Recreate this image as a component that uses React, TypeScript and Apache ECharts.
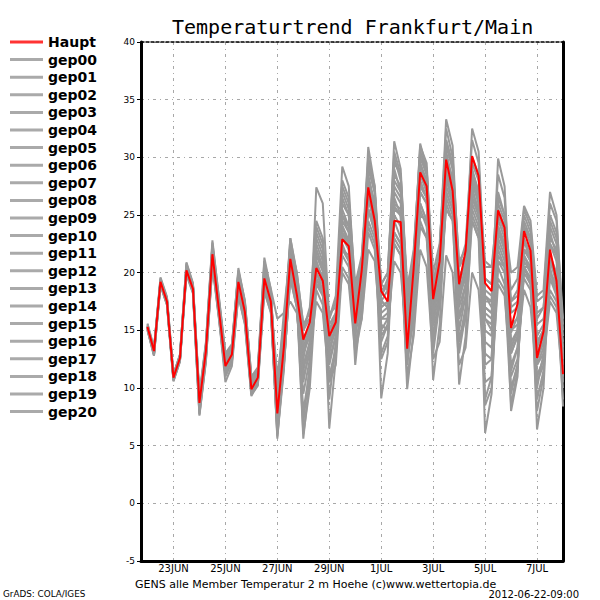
import React, { useEffect, useRef } from "react";
import * as echarts from "echarts";

const chartTitle = "Temperaturtrend Frankfurt/Main";
const footerText = "GENS alle Member Temperatur 2 m Hoehe (c)www.wettertopia.de";
const creditText = "GrADS: COLA/IGES";
const runTimeText = "2012-06-22-09:00";

const xTickLabels = ["23JUN", "25JUN", "27JUN", "29JUN", "1JUL", "3JUL", "5JUL", "7JUL"];
const yMin = -5;
const yMax = 40;
const yStep = 5;

// 6-hourly values from 22JUN 00Z to 8JUL 00Z (65 steps)
const haupt = [
  15.3, 13.2, 19.2, 17.5, 10.9, 12.6, 20.2, 18.6, 8.7, 13.2, 21.6, 16.8, 11.9, 12.9, 19.2, 16.6,
  9.9, 10.9, 19.5, 17.5, 7.8, 13.5, 21.2, 18.1, 14.2, 15.7, 20.4, 19.3, 14.5, 15.7, 22.9, 22.3,
  15.6, 20.2, 27.4, 24.5, 18.4, 17.5, 24.5, 24.4, 13.4, 20.4, 28.7, 27.5, 17.7, 21.0, 29.8, 27.1,
  19.0, 21.9, 30.1, 28.4, 19.1, 18.4, 25.4, 23.9, 15.2, 17.3, 23.6, 21.9, 12.6, 14.9, 22.0, 19.3,
  11.2,
];

const gep00 = [
  15.2, 13.0, 19.0, 17.3, 10.8, 12.4, 20.4, 18.8, 8.9, 13.4, 21.9, 17.0, 12.2, 13.1, 19.6, 16.9,
  10.2, 11.2, 20.1, 17.8, 8.5, 13.8, 21.8, 18.6, 13.5, 15.2, 21.5, 20.1, 14.9, 16.3, 24.1, 22.8,
  16.2, 19.5, 26.8, 24.0, 17.6, 17.0, 25.8, 24.9, 14.5, 19.8, 27.6, 26.5, 16.8, 20.2, 28.5, 26.0,
  18.2, 20.5, 28.8, 27.0, 18.0, 17.5, 24.6, 23.0, 14.8, 16.2, 22.8, 21.0, 13.5, 15.1, 21.2, 19.0,
  12.0,
];
const gep01 = [
  15.5, 13.3, 19.4, 17.7, 11.0, 12.8, 20.5, 18.9, 8.2, 12.8, 21.2, 16.5, 11.5, 12.4, 18.6, 16.0,
  9.6, 10.5, 18.8, 17.0, 6.5, 12.0, 19.5, 17.0, 9.5, 12.5, 18.5, 17.2, 10.5, 12.0, 20.5, 19.5,
  14.0, 16.0, 23.5, 22.0, 13.0, 14.5, 22.5, 21.5, 11.0, 14.5, 22.0, 20.5, 12.5, 14.0, 21.5, 20.0,
  12.0, 13.5, 20.0, 18.5, 10.5, 11.0, 19.0, 18.0, 11.0, 12.5, 20.5, 19.0, 10.5, 12.0, 19.5, 18.0,
  11.0,
];
const gep02 = [
  15.1, 12.9, 19.3, 17.6, 10.7, 12.5, 20.0, 18.4, 8.5, 13.0, 21.5, 16.9, 12.0, 13.0, 19.0, 16.8,
  10.0, 11.0, 19.8, 17.9, 9.0, 14.5, 22.3, 19.5, 15.0, 17.0, 24.5, 23.0, 16.0, 17.5, 26.5, 25.0,
  17.5, 20.5, 29.0, 27.0, 19.0, 20.0, 30.5, 28.5, 17.5, 21.0, 30.5, 28.5, 19.0, 22.0, 32.5, 30.0,
  20.5, 22.5, 31.5, 29.5, 19.5, 19.0, 28.5, 26.5, 17.5, 18.5, 25.0, 23.5, 16.0, 17.0, 24.0, 22.5,
  15.5,
];
const gep03 = [
  15.4, 13.1, 19.1, 17.4, 11.1, 12.7, 20.3, 18.5, 8.0, 12.6, 20.8, 16.2, 11.0, 12.2, 18.2, 15.8,
  9.5, 10.3, 19.0, 16.8, 5.8, 11.5, 20.5, 17.8, 6.0, 10.0, 19.0, 18.5, 11.0, 13.5, 23.5, 22.0,
  15.0, 18.5, 27.5, 25.5, 16.0, 16.5, 26.5, 25.0, 14.0, 17.0, 25.5, 24.0, 15.5, 17.0, 26.0, 24.5,
  14.0, 16.0, 24.5, 23.0, 8.5, 10.0, 21.0, 20.0, 13.0, 14.5, 21.5, 20.5, 9.0, 11.5, 23.0, 22.0,
  14.5,
];
const gep04 = [
  15.3, 13.4, 19.5, 17.8, 11.2, 12.9, 20.6, 19.0, 9.2, 13.8, 22.4, 17.5, 12.8, 13.6, 20.0, 17.3,
  10.8, 11.5, 20.5, 18.3, 8.0, 14.0, 22.5, 19.0, 12.5, 15.5, 23.0, 21.5, 13.0, 15.5, 25.5, 24.0,
  16.5, 21.0, 29.5, 27.0, 18.0, 19.0, 28.5, 27.5, 16.0, 21.5, 31.0, 29.5, 18.5, 22.0, 33.3, 31.0,
  19.5, 21.0, 27.5, 25.0, 14.0, 13.5, 19.5, 18.5, 12.0, 13.5, 18.5, 17.0, 11.0, 12.5, 17.5, 16.5,
  10.5,
];
const gep05 = [
  15.0, 12.8, 18.9, 17.2, 10.6, 12.3, 19.9, 18.3, 7.6, 12.3, 20.6, 16.0, 11.2, 12.5, 18.0, 15.5,
  9.3, 10.4, 18.5, 16.5, 7.0, 12.8, 20.0, 17.5, 11.5, 14.0, 21.0, 19.5, 12.0, 14.5, 24.5, 23.5,
  17.0, 20.0, 28.0, 25.5, 17.5, 18.5, 27.0, 26.0, 15.5, 19.0, 29.5, 28.0, 17.0, 20.5, 30.5, 28.0,
  17.5, 20.0, 29.0, 27.0, 16.0, 15.0, 23.0, 21.5, 10.0, 12.0, 20.0, 19.0, 13.0, 14.5, 20.5, 18.0,
  9.0,
];
const gep06 = [
  15.6, 13.5, 19.3, 17.6, 11.0, 12.6, 20.8, 19.0, 9.0, 13.5, 22.0, 17.2, 12.5, 13.4, 19.8, 17.0,
  10.4, 11.3, 20.0, 18.0, 9.5, 15.0, 23.0, 20.0, 15.5, 16.5, 21.0, 19.0, 16.5, 17.0, 22.0, 21.0,
  18.0, 19.0, 24.0, 22.5, 17.0, 17.5, 23.5, 22.5, 17.0, 19.5, 26.0, 24.5, 19.5, 21.0, 27.5, 26.0,
  20.5, 21.5, 26.5, 25.0, 20.5, 20.5, 24.0, 22.0, 18.5, 19.5, 25.5, 24.0, 17.5, 18.0, 26.0, 24.5,
  16.0,
];
const gep07 = [
  15.2, 13.2, 19.2, 17.4, 10.9, 12.5, 20.1, 18.5, 8.6, 13.1, 21.4, 16.7, 11.8, 12.8, 19.0, 16.4,
  9.7, 10.8, 19.4, 17.4, 6.2, 13.0, 21.5, 18.0, 7.0, 12.0, 22.0, 20.5, 9.0, 14.0, 27.0, 25.5,
  14.5, 19.5, 30.9, 27.5, 15.0, 16.0, 29.0, 27.0, 12.0, 18.0, 29.5, 27.5, 13.0, 17.5, 29.0, 27.0,
  14.0, 17.0, 28.0, 26.0, 12.0, 12.5, 24.0, 22.5, 8.0, 11.0, 24.5, 23.0, 10.0, 13.0, 25.0, 23.5,
  13.0,
];
const gep08 = [
  15.3, 13.1, 19.0, 17.3, 10.8, 12.7, 20.3, 18.7, 8.8, 13.3, 21.7, 16.9, 12.3, 13.2, 19.5, 17.0,
  10.1, 11.1, 19.9, 17.7, 8.2, 13.2, 20.8, 18.5, 13.0, 15.0, 22.5, 21.0, 15.5, 16.5, 25.0, 24.0,
  17.5, 19.0, 25.5, 23.5, 16.0, 16.0, 22.5, 21.5, 12.5, 16.0, 24.5, 23.0, 14.5, 18.0, 26.5, 25.0,
  16.0, 19.0, 30.0, 28.5, 17.5, 17.5, 29.9, 27.5, 16.5, 17.0, 23.0, 21.5, 14.0, 15.0, 21.0, 19.5,
  12.5,
];
const gep09 = [
  15.4, 13.3, 19.3, 17.5, 10.9, 12.6, 20.2, 18.6, 8.4, 13.0, 21.3, 16.6, 11.6, 12.7, 18.8, 16.2,
  9.5, 10.6, 19.2, 17.2, 7.5, 13.2, 21.0, 18.2, 13.0, 14.5, 27.4, 26.0, 16.0, 18.0, 29.2, 27.5,
  18.0, 21.0, 28.5, 26.0, 18.5, 19.0, 31.4, 29.0, 18.0, 21.5, 29.0, 27.0, 19.0, 21.0, 28.0, 26.5,
  18.5, 20.0, 26.5, 25.0, 17.0, 16.5, 22.0, 20.5, 15.5, 16.0, 20.5, 19.5, 12.0, 13.5, 18.5, 17.5,
  12.0,
];
const gep10 = [
  15.2, 13.0, 19.1, 17.4, 11.0, 12.8, 20.4, 18.7, 9.3, 13.8, 22.8, 17.8, 13.0, 13.5, 20.4, 17.5,
  11.0, 11.5, 21.3, 18.5, 9.0, 14.2, 23.0, 19.8, 12.0, 14.0, 19.5, 18.0, 13.5, 15.0, 21.5, 20.5,
  14.5, 18.0, 25.5, 23.5, 16.5, 17.0, 25.0, 24.0, 13.0, 18.5, 27.5, 26.5, 16.0, 19.5, 31.5, 29.5,
  19.0, 21.5, 32.5, 30.5, 19.5, 19.0, 27.0, 25.0, 14.0, 15.0, 21.5, 20.0, 11.0, 12.5, 20.0, 19.0,
  10.0,
];
const gep11 = [
  15.1, 13.0, 19.4, 17.8, 10.7, 12.4, 20.0, 18.3, 7.8, 12.5, 21.0, 16.3, 11.3, 12.6, 18.4, 16.1,
  9.8, 10.9, 18.9, 17.3, 5.6, 12.5, 20.5, 17.5, 5.6, 11.0, 21.5, 20.5, 6.5, 12.5, 24.0, 22.5,
  12.0, 17.5, 27.0, 25.0, 9.1, 13.0, 24.5, 23.0, 9.9, 15.0, 26.0, 24.5, 10.7, 15.5, 27.0, 25.5,
  10.3, 14.5, 25.5, 24.0, 6.1, 9.5, 20.5, 19.0, 8.5, 11.5, 22.0, 21.0, 6.4, 10.0, 21.0, 20.0,
  8.4,
];
const gep12 = [
  15.3, 13.2, 19.2, 17.6, 10.9, 12.7, 20.3, 18.6, 8.6, 13.1, 21.5, 16.8, 12.1, 13.0, 19.3, 16.7,
  10.3, 11.4, 19.7, 17.6, 10.0, 16.5, 22.0, 19.0, 15.0, 16.0, 24.0, 22.5, 15.0, 16.5, 28.0, 26.5,
  19.0, 21.5, 30.0, 27.5, 19.0, 20.0, 30.0, 28.0, 18.5, 22.0, 30.5, 29.0, 20.0, 22.5, 31.0, 29.0,
  21.0, 22.0, 29.5, 28.0, 21.0, 20.5, 26.0, 24.5, 20.0, 20.5, 25.8, 24.5, 18.0, 18.5, 27.0, 25.0,
  15.0,
];
const gep13 = [
  15.2, 13.1, 19.0, 17.5, 10.8, 12.5, 20.1, 18.5, 8.1, 12.9, 21.1, 16.4, 11.5, 12.3, 18.5, 16.0,
  9.6, 10.7, 18.6, 16.9, 7.0, 12.0, 19.5, 17.0, 12.0, 13.0, 17.5, 16.5, 10.5, 13.0, 22.5, 21.0,
  13.5, 17.0, 26.5, 24.0, 12.5, 14.0, 23.5, 22.5, 12.0, 16.5, 28.0, 26.5, 14.0, 17.5, 30.0, 28.0,
  13.0, 16.5, 27.0, 25.5, 9.0, 11.0, 21.5, 20.5, 9.5, 12.0, 20.5, 19.5, 8.0, 11.0, 22.5, 21.5,
  11.5,
];
const gep14 = [
  15.4, 13.2, 19.1, 17.5, 10.9, 12.6, 20.5, 18.9, 8.9, 13.6, 22.1, 17.3, 12.6, 13.3, 19.9, 17.2,
  10.6, 11.6, 20.6, 18.1, 9.5, 13.5, 20.0, 18.0, 14.5, 15.0, 19.0, 18.0, 14.0, 15.0, 20.0, 19.0,
  13.0, 16.0, 22.0, 21.0, 14.5, 15.5, 21.0, 20.0, 14.0, 17.5, 24.0, 23.0, 17.0, 19.0, 25.5, 24.5,
  18.0, 19.5, 24.5, 23.0, 18.0, 17.0, 21.0, 20.5, 17.5, 18.0, 20.5, 20.5, 15.5, 16.0, 19.5, 18.5,
  14.0,
];
const gep15 = [
  15.3, 13.3, 19.3, 17.7, 11.1, 12.9, 20.7, 19.0, 9.1, 13.7, 22.3, 17.6, 12.7, 13.5, 20.1, 17.4,
  10.5, 11.3, 20.3, 18.2, 8.8, 13.8, 22.0, 19.3, 14.0, 15.5, 22.0, 20.5, 14.5, 16.0, 26.0, 25.0,
  16.0, 19.0, 28.0, 26.0, 19.0, 18.5, 27.5, 26.5, 15.0, 20.0, 30.0, 28.5, 18.0, 21.5, 31.5, 29.0,
  19.5, 21.0, 28.0, 26.0, 16.5, 16.0, 22.5, 21.0, 13.5, 15.0, 21.0, 20.0, 14.0, 15.0, 23.5, 21.5,
  12.5,
];
const gep16 = [
  15.1, 12.9, 18.9, 17.2, 10.6, 12.3, 19.8, 18.2, 7.7, 12.4, 20.7, 16.1, 10.5, 11.9, 18.0, 15.6,
  9.4, 10.2, 18.3, 16.6, 6.0, 11.8, 19.8, 17.2, 8.0, 11.5, 20.0, 19.0, 12.5, 14.5, 25.0, 23.5,
  16.5, 19.5, 26.5, 24.5, 15.5, 15.0, 26.0, 25.5, 13.5, 18.5, 27.0, 26.0, 15.5, 18.5, 28.0, 26.5,
  15.0, 18.0, 26.0, 24.5, 13.0, 12.5, 23.5, 22.0, 11.5, 13.5, 24.0, 23.0, 12.5, 14.0, 20.0, 18.5,
  11.0,
];
const gep17 = [
  15.5, 13.4, 19.6, 17.9, 11.2, 12.8, 20.9, 19.1, 9.5, 14.0, 22.6, 17.9, 13.0, 13.8, 20.2, 17.6,
  11.0, 11.8, 21.0, 18.6, 16.0, 16.5, 17.5, 16.5, 11.0, 13.0, 19.5, 18.5, 13.0, 15.5, 23.5, 22.5,
  17.0, 19.0, 27.5, 26.0, 17.0, 17.5, 28.0, 27.0, 16.5, 20.5, 28.5, 27.0, 18.0, 20.5, 29.5, 27.5,
  17.0, 19.0, 25.0, 23.5, 15.0, 14.5, 25.5, 24.0, 17.0, 17.5, 22.0, 21.0, 16.5, 17.0, 22.5, 21.0,
  13.5,
];
const gep18 = [
  15.0, 12.8, 19.0, 17.3, 10.7, 12.4, 20.0, 18.4, 8.3, 12.7, 21.0, 16.4, 11.4, 12.6, 18.7, 16.3,
  9.9, 11.0, 19.3, 17.1, 7.2, 13.0, 21.0, 18.3, 10.5, 13.5, 23.5, 22.0, 14.0, 16.0, 27.5, 26.0,
  18.5, 21.0, 29.5, 27.0, 18.0, 19.5, 29.5, 28.5, 19.0, 21.0, 31.2, 29.0, 18.5, 21.5, 30.0, 28.0,
  19.0, 21.0, 27.0, 25.5, 18.5, 18.0, 24.0, 22.5, 15.0, 15.5, 19.5, 18.5, 12.0, 13.0, 18.0, 17.0,
  11.5,
];
const gep19 = [
  15.3, 13.2, 19.2, 17.5, 10.9, 12.6, 20.2, 18.6, 8.7, 13.2, 21.8, 17.0, 12.4, 13.2, 19.4, 16.9,
  10.1, 11.2, 19.6, 17.6, 8.4, 13.5, 21.5, 18.5, 13.5, 15.0, 20.5, 19.5, 15.0, 16.0, 23.0, 22.0,
  15.5, 18.5, 25.5, 24.0, 17.5, 17.0, 25.5, 25.0, 14.5, 19.0, 27.0, 26.0, 17.5, 20.5, 28.5, 27.0,
  18.0, 20.5, 28.5, 26.5, 17.0, 16.5, 26.5, 25.0, 13.0, 14.5, 22.0, 21.5, 12.5, 14.0, 21.5, 20.0,
  10.5,
];
const gep20 = [
  15.2, 13.0, 19.2, 17.5, 10.8, 12.6, 20.2, 18.6, 8.5, 13.1, 21.5, 16.8, 12.0, 12.9, 19.1, 16.6,
  10.0, 11.0, 19.4, 17.5, 11.0, 15.5, 22.5, 20.0, 15.5, 16.0, 20.0, 18.5, 13.5, 15.0, 22.0, 21.5,
  15.0, 17.5, 24.5, 23.0, 14.0, 15.5, 23.0, 22.0, 12.5, 17.5, 25.0, 24.5, 16.5, 19.0, 27.0, 25.5,
  16.0, 18.0, 27.5, 26.5, 16.0, 15.5, 25.0, 23.5, 13.5, 15.0, 24.0, 22.5, 14.5, 15.5, 24.5, 23.0,
  12.5,
];

const memberNames = [
  "gep00", "gep01", "gep02", "gep03", "gep04", "gep05", "gep06", "gep07", "gep08", "gep09", "gep10",
  "gep11", "gep12", "gep13", "gep14", "gep15", "gep16", "gep17", "gep18", "gep19", "gep20",
];
const memberValues = [
  gep00, gep01, gep02, gep03, gep04, gep05, gep06, gep07, gep08, gep09, gep10,
  gep11, gep12, gep13, gep14, gep15, gep16, gep17, gep18, gep19, gep20,
];

// time axis: 21JUN 18Z (empty padding step) .. 8JUL 00Z, 6-hourly
const MONTHS = ["JAN", "FEB", "MAR", "APR", "MAY", "JUN", "JUL", "AUG", "SEP", "OCT", "NOV", "DEC"];
const firstStep = Date.UTC(2012, 5, 21, 18);
const timeSteps: string[] = [];
for (let k = 0; k < haupt.length + 1; k++) {
  const d = new Date(firstStep + k * 6 * 3600 * 1000);
  timeSteps.push(
    String(d.getUTCHours()).padStart(2, "0") + "Z" + d.getUTCDate() + MONTHS[d.getUTCMonth()]
  );
}
const isTick = (idx: number) => idx >= 5 && (idx - 5) % 8 === 0;

const GREY = "#999999";
const RED = "#ff0000";

export default function App() {
  const ref = useRef<HTMLDivElement>(null);
  useEffect(() => {
    if (!ref.current) return;
    const chart = echarts.init(ref.current, undefined, { renderer: "svg" });
    const gridDash = { color: "#a8a8a8", width: 1, type: [3, 4, 1, 4] as any };
    const series: any[] = memberValues.map((vals, j) => ({
      name: memberNames[j],
      type: "line",
      data: [null, ...vals],
      symbol: "none",
      lineStyle: { color: GREY, width: 2 },
      itemStyle: { color: GREY },
      z: 2,
      silent: true,
    }));
    series.push({
      name: "Haupt",
      type: "line",
      data: [null, ...haupt],
      symbol: "none",
      lineStyle: { color: RED, width: 2 },
      itemStyle: { color: RED },
      z: 3,
      silent: true,
    });
    chart.setOption({
      animation: false,
      backgroundColor: "#ffffff",
      title: {
        text: chartTitle,
        left: 167,
        top: 12,
        textStyle: {
          fontFamily: "DejaVu Sans Mono",
          fontSize: 20,
          fontWeight: "normal",
          color: "#000",
        },
      },
      legend: {
        orient: "vertical",
        left: 10,
        top: 35,
        padding: 0,
        icon: "rect",
        itemWidth: 33,
        itemHeight: 3,
        itemGap: 3.6,
        data: [
          { name: "Haupt", itemStyle: { color: "#ff3333" } },
          ...memberNames.map((n) => ({ name: n, itemStyle: { color: "#aaaaaa" } })),
        ],
        textStyle: {
          fontFamily: "DejaVu Sans",
          fontWeight: "bold",
          fontSize: 14,
          lineHeight: 14,
          color: "#000",
        },
        selectedMode: false,
      },
      grid: { left: 141, right: 37, top: 42, bottom: 39, containLabel: false },
      xAxis: [
        {
          type: "category",
          data: timeSteps,
          boundaryGap: false,
          axisLine: { show: true, onZero: false, lineStyle: { color: "#000", width: 3 } },
          axisTick: { show: false },
          axisLabel: {
            interval: (idx: number) => isTick(idx),
            formatter: (_v: string, idx: number) => (isTick(idx) ? xTickLabels[(idx - 5) / 8] : ""),
            fontFamily: "DejaVu Sans",
            fontSize: 10,
            color: "#000",
            margin: 2,
          },
          splitLine: { show: true, interval: (idx: number) => isTick(idx), lineStyle: gridDash },
        },
        {
          type: "category",
          data: timeSteps,
          position: "top",
          boundaryGap: false,
          axisLine: { show: true, onZero: false, lineStyle: { color: "#000", width: 1.5, type: [3, 2] } },
          axisTick: { show: false },
          axisLabel: { show: false },
          splitLine: { show: false },
        },
      ],
      yAxis: [
        {
          type: "value",
          min: yMin,
          max: yMax,
          interval: yStep,
          axisLine: { show: true, onZero: false, lineStyle: { color: "#000", width: 3 } },
          axisTick: { show: true, length: 4, lineStyle: { color: "#000", width: 1 } },
          axisLabel: {
            fontFamily: "DejaVu Sans",
            fontSize: 9,
            color: "#000",
            margin: 6,
          },
          splitLine: { show: true, lineStyle: gridDash },
        },
        {
          type: "value",
          min: yMin,
          max: yMax,
          interval: yStep,
          position: "right",
          axisLine: { show: true, onZero: false, lineStyle: { color: "#000", width: 3 } },
          axisTick: { show: false },
          axisLabel: { show: false },
          splitLine: { show: false },
        },
      ],
      graphic: [
        {
          type: "text",
          left: 135,
          top: 579,
          style: { text: footerText, fontFamily: "DejaVu Sans", fontSize: 11, fill: "#000" },
        },
        {
          type: "text",
          left: 3,
          top: 589,
          style: { text: creditText, fontFamily: "DejaVu Sans", fontSize: 8.8, fill: "#000" },
        },
        {
          type: "text",
          right: 21,
          top: 589,
          style: { text: runTimeText, fontFamily: "DejaVu Sans", fontSize: 10, fill: "#000" },
        },
      ],
      series,
    });
    return () => chart.dispose();
  }, []);
  return (
    <div
      ref={ref}
      style={{ position: "fixed", left: 0, top: 0, width: 600, height: 600, background: "#fff" }}
    />
  );
}
